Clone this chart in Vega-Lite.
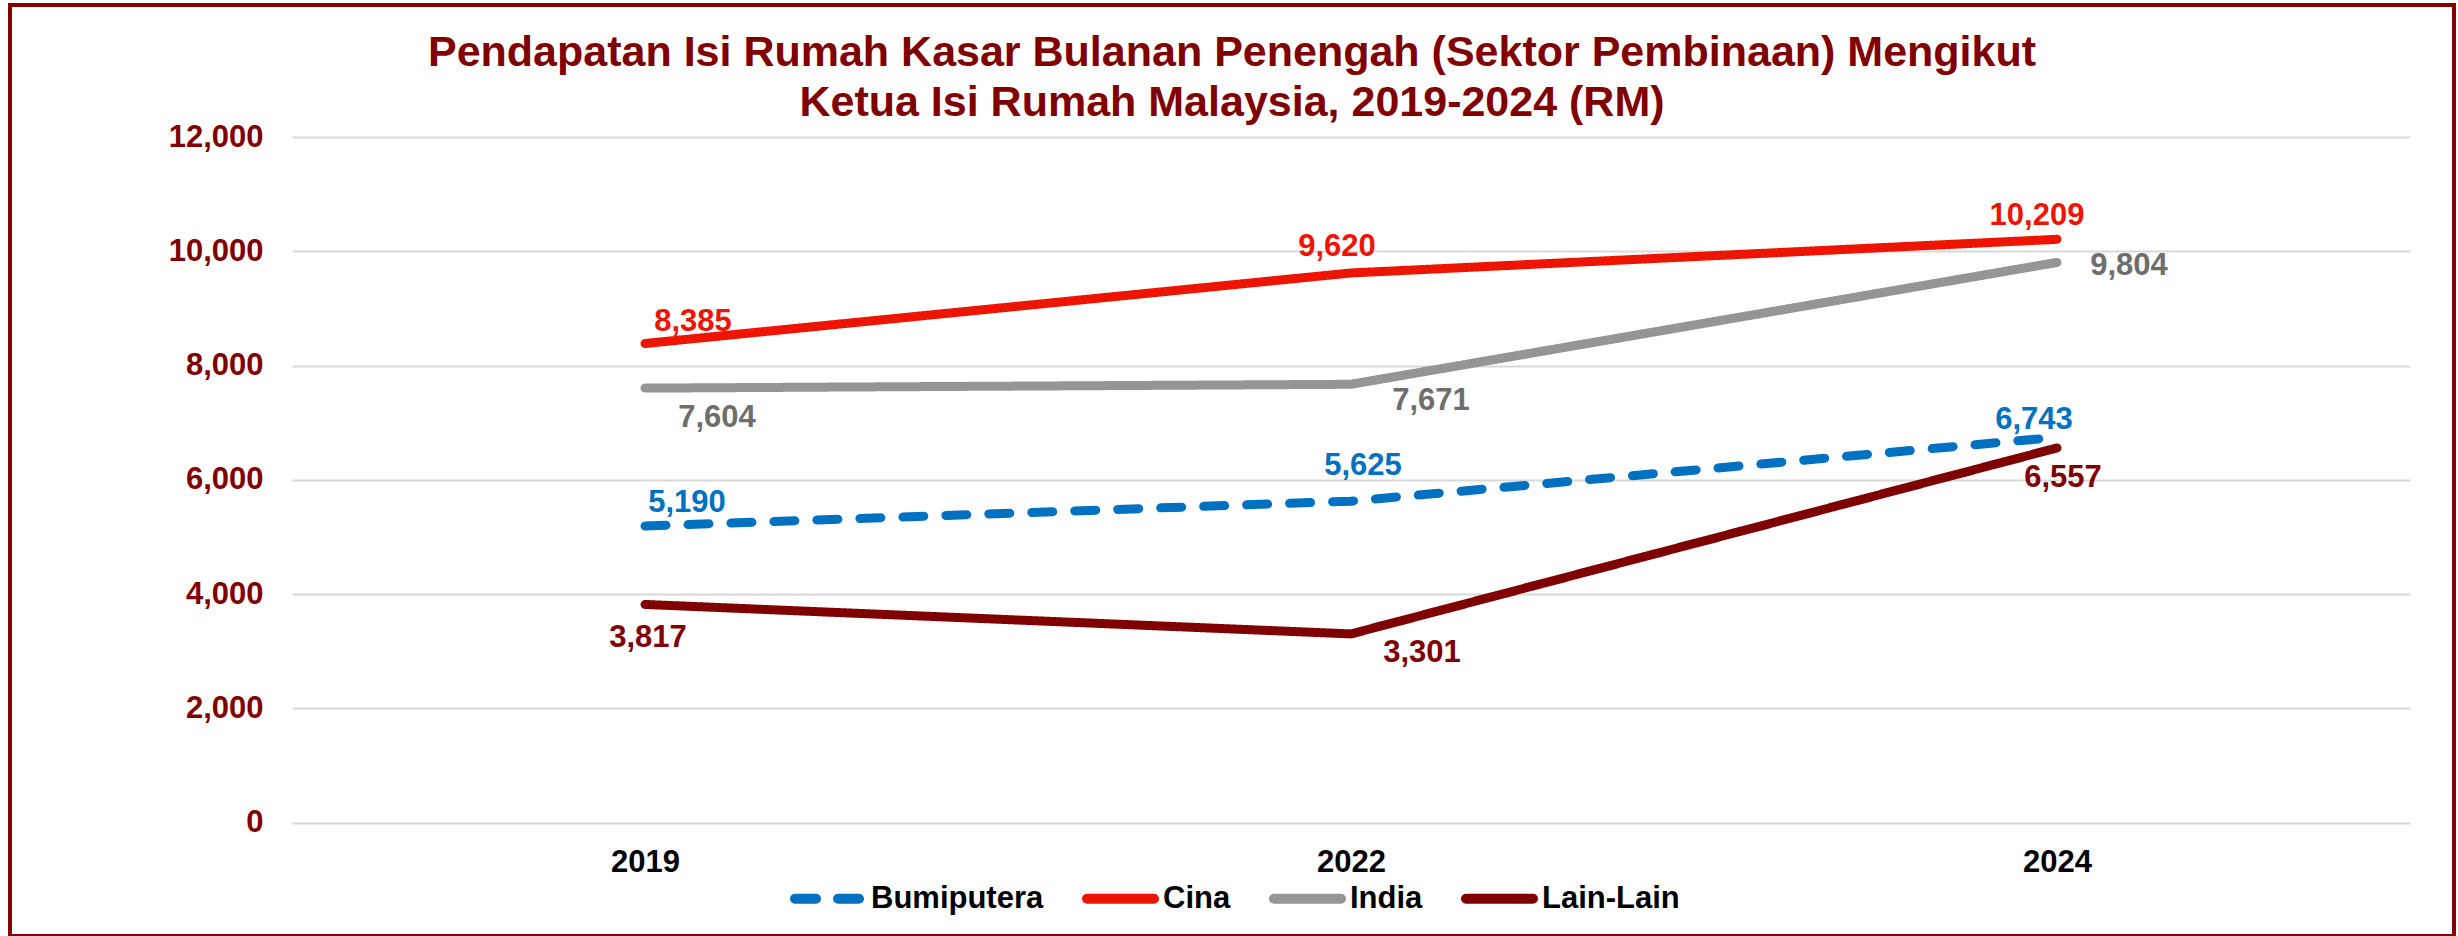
{
  "$schema": "https://vega.github.io/schema/vega-lite/v6.json",
  "width": 2444,
  "height": 931,
  "autosize": {"type": "none"},
  "padding": {"left": 10, "top": 5, "right": 4, "bottom": 0},
  "background": "white",
  "config": {
    "font": "Liberation Sans",
    "view": {"stroke": "#860000", "strokeWidth": 4, "fill": "white"}
  },
  "title": {
    "text": ["Pendapatan Isi Rumah Kasar Bulanan Penengah (Sektor Pembinaan) Mengikut", "Ketua Isi Rumah Malaysia, 2019-2024 (RM)"],
    "fontSize": 43,
    "fontWeight": "bold",
    "color": "#800000",
    "lineHeight": 50,
    "anchor": "middle",
    "frame": "group",
    "baseline": "top",
    "offset": -120
  },
  "data": {
    "values": [
      {"series": "Bumiputera", "year": "2019", "value": 5190},
      {"series": "Bumiputera", "year": "2022", "value": 5625},
      {"series": "Bumiputera", "year": "2024", "value": 6743},
      {"series": "Cina", "year": "2019", "value": 8385},
      {"series": "Cina", "year": "2022", "value": 9620},
      {"series": "Cina", "year": "2024", "value": 10209},
      {"series": "India", "year": "2019", "value": 7604},
      {"series": "India", "year": "2022", "value": 7671},
      {"series": "India", "year": "2024", "value": 9804},
      {"series": "Lain-Lain", "year": "2019", "value": 3817},
      {"series": "Lain-Lain", "year": "2022", "value": 3301},
      {"series": "Lain-Lain", "year": "2024", "value": 6557}
    ]
  },
  "encoding": {
    "x": {
      "field": "year",
      "type": "ordinal",
      "scale": {"type": "point", "range": [282, 2400], "padding": 0.5},
      "axis": {
        "title": null,
        "labelAngle": 0,
        "labelFontSize": 31,
        "labelFontWeight": "bold",
        "labelColor": "#000000",
        "ticks": false,
        "tickSize": 0,
        "domain": false,
        "grid": false,
        "labelPadding": 25,
        "offset": -113.5
      }
    },
    "y": {
      "field": "value",
      "type": "quantitative",
      "scale": {"domain": [0, 12000], "range": [817.5, 132], "nice": false, "zero": true},
      "axis": {
        "title": null,
        "values": [0, 2000, 4000, 6000, 8000, 10000, 12000],
        "format": ",d",
        "labelFontSize": 31,
        "labelFontWeight": "bold",
        "labelColor": "#800000",
        "ticks": false,
        "tickSize": 0,
        "domain": false,
        "grid": true,
        "gridColor": "#D9D9D9",
        "gridWidth": 2,
        "labelPadding": 29,
        "offset": -282
      }
    }
  },
  "layer": [
    {
      "mark": {"type": "line", "strokeWidth": 9, "strokeCap": "round", "strokeJoin": "round"},
      "encoding": {
        "color": {
          "field": "series",
          "type": "nominal",
          "scale": {"domain": ["Bumiputera", "Cina", "India", "Lain-Lain"], "range": ["#0070C0", "#EE1500", "#959595", "#7F0000"]},
          "legend": {
            "title": null,
            "orient": "none",
            "legendX": 780,
            "legendY": 855,
            "direction": "horizontal",
            "symbolType": "stroke",
            "symbolSize": 4489,
            "symbolStrokeWidth": 10,
            "labelFontSize": 31,
            "labelFontWeight": "bold",
            "labelColor": "#000000",
            "labelLimit": 0,
            "labelOffset": 4,
            "columnPadding": 23,
            "padding": 0,
            "encode": {"symbols": {"update": {"strokeCap": {"value": "round"}}}}
          }
        },
        "strokeDash": {
          "field": "series",
          "type": "nominal",
          "scale": {"domain": ["Bumiputera", "Cina", "India", "Lain-Lain"], "range": [[21, 22], [1, 0], [1, 0], [1, 0]]},
          "legend": {
            "title": null,
            "orient": "none",
            "legendX": 780,
            "legendY": 855,
            "direction": "horizontal",
            "symbolType": "stroke",
            "symbolSize": 4489,
            "symbolStrokeWidth": 10,
            "labelFontSize": 31,
            "labelFontWeight": "bold",
            "labelColor": "#000000",
            "labelLimit": 0,
            "labelOffset": 4,
            "columnPadding": 23,
            "padding": 0,
            "encode": {"symbols": {"update": {"strokeCap": {"value": "round"}}}}
          }
        }
      }
    },
    {"transform": [{"filter": "datum.series==='Cina' && datum.year==='2019'"}], "mark": {"type": "text", "dx": 48, "dy": -22, "color": "#EE1500", "fontSize": 31, "fontWeight": "bold"}, "encoding": {"text": {"field": "value", "type": "quantitative", "format": ","}}},
    {"transform": [{"filter": "datum.series==='Cina' && datum.year==='2022'"}], "mark": {"type": "text", "dx": -14, "dy": -26, "color": "#EE1500", "fontSize": 31, "fontWeight": "bold"}, "encoding": {"text": {"field": "value", "type": "quantitative", "format": ","}}},
    {"transform": [{"filter": "datum.series==='Cina' && datum.year==='2024'"}], "mark": {"type": "text", "dx": -20, "dy": -23, "color": "#EE1500", "fontSize": 31, "fontWeight": "bold"}, "encoding": {"text": {"field": "value", "type": "quantitative", "format": ","}}},
    {"transform": [{"filter": "datum.series==='India' && datum.year==='2019'"}], "mark": {"type": "text", "dx": 72, "dy": 30, "color": "#6E6E6E", "fontSize": 31, "fontWeight": "bold"}, "encoding": {"text": {"field": "value", "type": "quantitative", "format": ","}}},
    {"transform": [{"filter": "datum.series==='India' && datum.year==='2022'"}], "mark": {"type": "text", "dx": 80, "dy": 17, "color": "#6E6E6E", "fontSize": 31, "fontWeight": "bold"}, "encoding": {"text": {"field": "value", "type": "quantitative", "format": ","}}},
    {"transform": [{"filter": "datum.series==='India' && datum.year==='2024'"}], "mark": {"type": "text", "dx": 72, "dy": 3.5, "color": "#6E6E6E", "fontSize": 31, "fontWeight": "bold"}, "encoding": {"text": {"field": "value", "type": "quantitative", "format": ","}}},
    {"transform": [{"filter": "datum.series==='Bumiputera' && datum.year==='2019'"}], "mark": {"type": "text", "dx": 42, "dy": -23, "color": "#0070C0", "fontSize": 31, "fontWeight": "bold"}, "encoding": {"text": {"field": "value", "type": "quantitative", "format": ","}}},
    {"transform": [{"filter": "datum.series==='Bumiputera' && datum.year==='2022'"}], "mark": {"type": "text", "dx": 12, "dy": -35, "color": "#0070C0", "fontSize": 31, "fontWeight": "bold"}, "encoding": {"text": {"field": "value", "type": "quantitative", "format": ","}}},
    {"transform": [{"filter": "datum.series==='Bumiputera' && datum.year==='2024'"}], "mark": {"type": "text", "dx": -23, "dy": -17, "color": "#0070C0", "fontSize": 31, "fontWeight": "bold"}, "encoding": {"text": {"field": "value", "type": "quantitative", "format": ","}}},
    {"transform": [{"filter": "datum.series==='Lain-Lain' && datum.year==='2019'"}], "mark": {"type": "text", "dx": 3, "dy": 33.5, "color": "#7F0000", "fontSize": 31, "fontWeight": "bold"}, "encoding": {"text": {"field": "value", "type": "quantitative", "format": ","}}},
    {"transform": [{"filter": "datum.series==='Lain-Lain' && datum.year==='2022'"}], "mark": {"type": "text", "dx": 71, "dy": 19, "color": "#7F0000", "fontSize": 31, "fontWeight": "bold"}, "encoding": {"text": {"field": "value", "type": "quantitative", "format": ","}}},
    {"transform": [{"filter": "datum.series==='Lain-Lain' && datum.year==='2024'"}], "mark": {"type": "text", "dx": 6, "dy": 30, "color": "#7F0000", "fontSize": 31, "fontWeight": "bold"}, "encoding": {"text": {"field": "value", "type": "quantitative", "format": ","}}}
  ]
}
